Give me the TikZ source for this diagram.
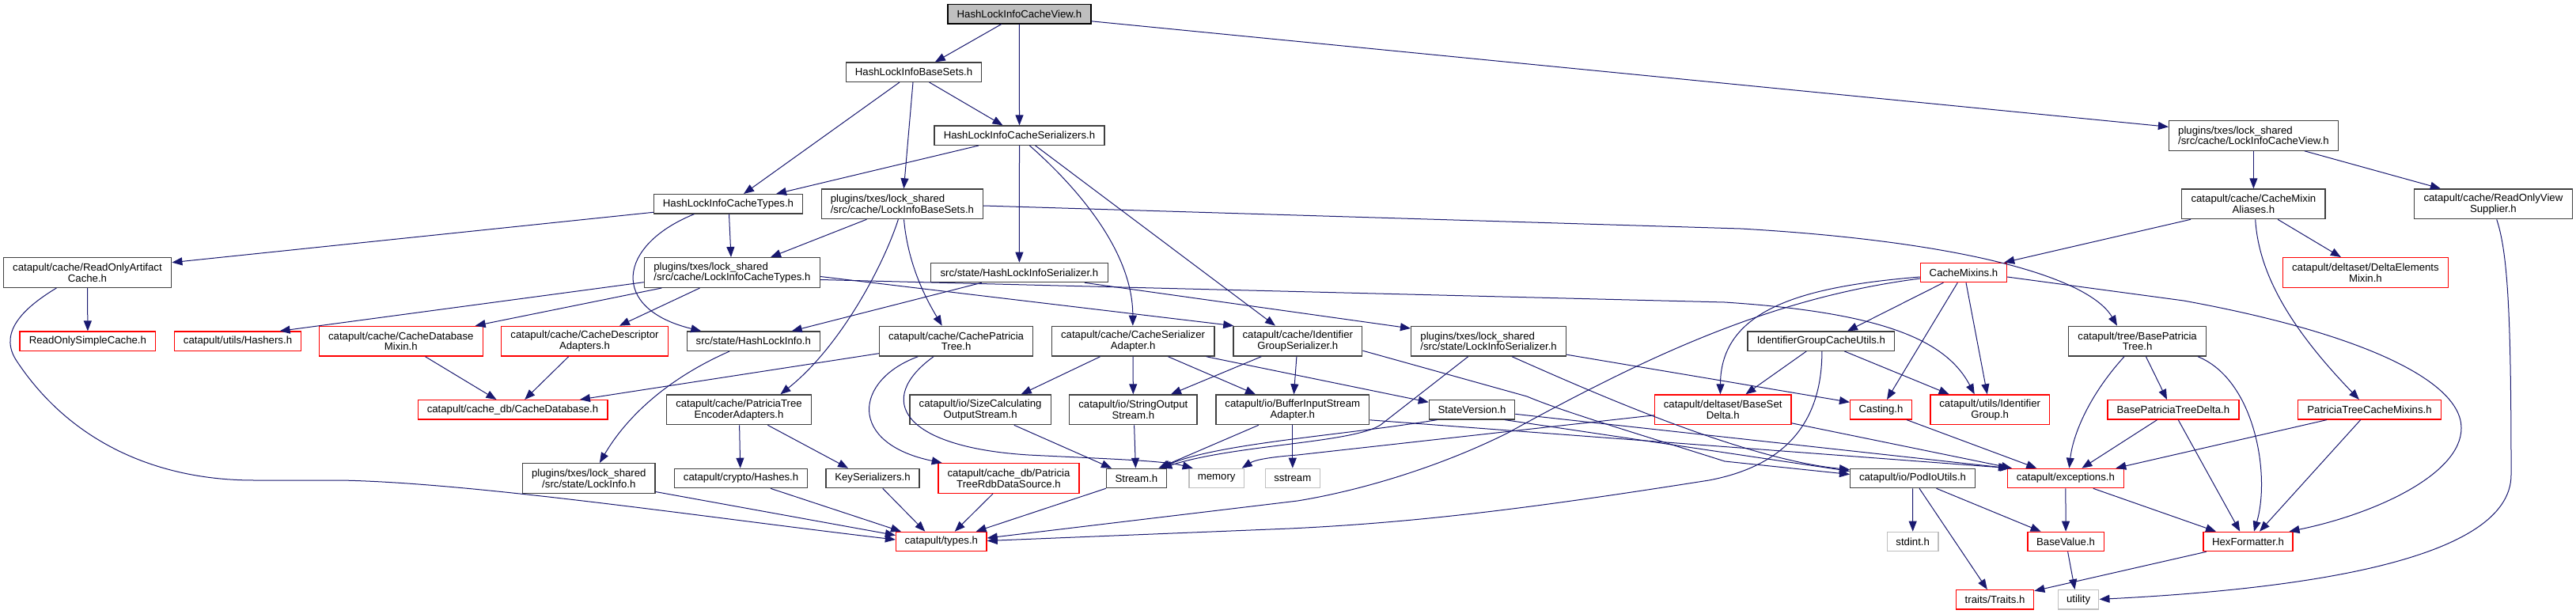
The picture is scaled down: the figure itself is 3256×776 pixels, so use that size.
\documentclass[tikz,border=0pt]{standalone}
\usepackage{fontspec}
\setmainfont{Liberation Sans}
\usetikzlibrary{arrows.meta,calc}
\definecolor{edgec}{HTML}{191970}
\definecolor{nodeb}{HTML}{404040}
\definecolor{sysb}{HTML}{BFBFBF}
\definecolor{topf}{HTML}{BFBFBF}
\begin{document}
\begin{tikzpicture}[x=1pt,y=-1pt,
  base/.style={draw, line width=1.3pt, fill=white, inner sep=0pt, font=\fontsize{13.2}{13.6}\selectfont, text=black},
  one/.style={minimum height=24.3pt},
  two/.style={minimum height=37.7pt},
  blk/.style={base, draw=nodeb},
  rd/.style={base, draw=red},
  gr/.style={base, draw=sysb},
  tp/.style={base, draw=black, fill=topf},
  dep/.style={draw=edgec, line width=1pt, -{Triangle[length=13pt,width=10pt]}}
]
\fill[white] (0,0) rectangle (3256,776);
\useasboundingbox (0,0) rectangle (3256,776);
% row 0-4
\node[tp,one,minimum width=181pt] (view) at (1288.4,17.8) {HashLockInfoCacheView.h};
\node[blk,one,minimum width=171.4pt] (bs) at (1155,91.2) {HashLockInfoBaseSets.h};
\node[blk,one,minimum width=215pt] (ser) at (1288.5,171.2) {HashLockInfoCacheSerializers.h};
\node[blk,two,minimum width=213.8pt,align=left] (lcv) at (2848.4,171.3) {plugins/txes/lock\_shared\\/src/cache/LockInfoCacheView.h};
\node[blk,one,minimum width=188.2pt] (ct) at (920.5,257.8) {HashLockInfoCacheTypes.h};
\node[blk,two,minimum width=204.3pt,align=left] (lbs) at (1140.4,257.8) {plugins/txes/lock\_shared\\/src/cache/LockInfoBaseSets.h};
\node[blk,two,minimum width=181.2pt,align=center] (cma) at (2848.4,257.8) {catapult/cache/CacheMixin\\Aliases.h};
\node[blk,two,minimum width=200pt,align=center] (rovs) at (3151.4,257.8) {catapult/cache/ReadOnlyView\\Supplier.h};
\node[blk,two,minimum width=212.5pt,align=center] (roac) at (110.5,344.5) {catapult/cache/ReadOnlyArtifact\\Cache.h};
\node[blk,two,minimum width=222pt,align=left] (lct) at (925.4,344.5) {plugins/txes/lock\_shared\\/src/cache/LockInfoCacheTypes.h};
\node[blk,one,minimum width=224pt] (hlis) at (1288.4,344.5) {src/state/HashLockInfoSerializer.h};
\node[rd,one,minimum width=109pt] (cm) at (2482,344.5) {CacheMixins.h};
\node[rd,two,minimum width=208.8pt,align=center] (dem) at (2989.9,344.5) {catapult/deltaset/DeltaElements\\Mixin.h};
% row 5
\node[rd,one,minimum width=171.8pt] (rosc) at (110.9,431.2) {ReadOnlySimpleCache.h};
\node[rd,one,minimum width=160.3pt] (hashers) at (300.5,431.2) {catapult/utils/Hashers.h};
\node[rd,two,minimum width=207.2pt,align=center] (cdbm) at (506.8,431.2) {catapult/cache/CacheDatabase\\Mixin.h};
\node[rd,two,minimum width=210.7pt,align=center] (cda) at (739,431.2) {catapult/cache/CacheDescriptor\\Adapters.h};
\node[blk,one,minimum width=168.2pt] (hli) at (952.3,431.2) {src/state/HashLockInfo.h};
\node[blk,two,minimum width=194.3pt,align=center] (cpt) at (1208.6,431.2) {catapult/cache/CachePatricia\\Tree.h};
\node[blk,two,minimum width=205.7pt,align=center] (csa) at (1432.1,431.2) {catapult/cache/CacheSerializer\\Adapter.h};
\node[blk,two,minimum width=162.9pt,align=center] (igs) at (1640.3,431.2) {catapult/cache/Identifier\\GroupSerializer.h};
\node[blk,two,minimum width=196pt,align=left] (lis) at (1881.6,431.2) {plugins/txes/lock\_shared\\/src/state/LockInfoSerializer.h};
\node[blk,one,minimum width=185.7pt] (igcu) at (2301.8,431.2) {IdentifierGroupCacheUtils.h};
\node[blk,two,minimum width=174.1pt,align=center] (bpt) at (2701.6,431.2) {catapult/tree/BasePatricia\\Tree.h};
% row 6
\node[rd,one,minimum width=239.7pt] (cdb) at (648,517.8) {catapult/cache\_db/CacheDatabase.h};
\node[blk,two,minimum width=182.9pt,align=center] (ptea) at (934,517.8) {catapult/cache/PatriciaTree\\EncoderAdapters.h};
\node[blk,two,minimum width=178.2pt,align=center] (scos) at (1239.1,517.8) {catapult/io/SizeCalculating\\OutputStream.h};
\node[blk,two,minimum width=161.1pt,align=center] (sos) at (1432.3,517.8) {catapult/io/StringOutput\\Stream.h};
\node[blk,two,minimum width=193.9pt,align=center] (bisa) at (1633.8,517.8) {catapult/io/BufferInputStream\\Adapter.h};
\node[blk,one,minimum width=108.2pt] (sv) at (1860.5,517.8) {StateVersion.h};
\node[rd,two,minimum width=172.5pt,align=center] (bsd) at (2177.7,517.8) {catapult/deltaset/BaseSet\\Delta.h};
\node[rd,one,minimum width=77.8pt] (cast) at (2377.5,517.8) {Casting.h};
\node[rd,two,minimum width=150.4pt,align=center] (ig) at (2515.2,517.8) {catapult/utils/Identifier\\Group.h};
\node[rd,one,minimum width=165.9pt] (bptd) at (2746.9,517.8) {BasePatriciaTreeDelta.h};
\node[rd,one,minimum width=180.9pt] (ptcm) at (2995,517.8) {PatriciaTreeCacheMixins.h};
% row 7
\node[blk,two,minimum width=167.2pt,align=center] (li) at (744.3,604.5) {plugins/txes/lock\_shared\\/src/state/LockInfo.h};
\node[blk,one,minimum width=168.2pt] (hashes) at (936.6,604.5) {catapult/crypto/Hashes.h};
\node[blk,one,minimum width=118.2pt] (ks) at (1103,604.5) {KeySerializers.h};
\node[rd,two,minimum width=177.8pt,align=center] (ptrds) at (1275,604.5) {catapult/cache\_db/Patricia\\TreeRdbDataSource.h};
\node[blk,one,minimum width=76.1pt] (stream) at (1436.3,604.5) {Stream.h};
\node[gr,one,minimum width=69.6pt] (memory) at (1537.7,604.5) {memory};
\node[gr,one,minimum width=68.9pt] (sstream) at (1633.8,604.5) {sstream};
\node[blk,one,minimum width=157.8pt] (pio) at (2417.5,604.5) {catapult/io/PodIoUtils.h};
\node[rd,one,minimum width=146.8pt] (exc) at (2610.9,604.5) {catapult/exceptions.h};
% row 8-9
\node[rd,one,minimum width=114.6pt] (types) at (1189.8,684.5) {catapult/types.h};
\node[gr,one,minimum width=64.6pt] (stdint) at (2417.7,684.5) {stdint.h};
\node[rd,one,minimum width=96.4pt] (bv) at (2611.1,684.5) {BaseValue.h};
\node[rd,one,minimum width=112.8pt] (hex) at (2841.5,684.5) {HexFormatter.h};
\node[rd,one,minimum width=98.2pt] (traits) at (2521.6,757.8) {traits/Traits.h};
\node[gr,one,minimum width=51.4pt] (utility) at (2627.1,757.8) {utility};

% edges
\path[dep] ($(view.south)+(-22.7,0)$) -- ($(bs.north)+(26.8,0)$);
\path[dep] (view.south) -- (ser.north);
\path[dep] ($(view.east)+(0,9)$) -- ($(lcv.west)+(0,-11)$);
\path[dep] ($(bs.south)+(-18,0)$) -- ($(ct.north)+(19.5,0)$);
\path[dep] ($(bs.south)+(19.6,0)$) -- ($(ser.north)+(-21,0)$);
\path[dep] ($(bs.south)+(-1,0)$) -- ($(lbs.north)+(2,0)$);
\path[dep] ($(ser.south)+(-51.5,0)$) -- ($(ct.north)+(60.5,0)$);
\path[dep] (ser.south) -- (hlis.north);
\path[dep] ($(ser.south)+(12.9,0)$) .. controls (1365,240) and (1432,320) .. ($(csa.north)+(-0.3,0)$);
\path[dep] ($(ser.south)+(20.1,0)$) -- ($(igs.north)+(-28.3,0)$);
\path[dep] ($(ct.west)+(0,10.5)$) -- ($(roac.east)+(0,-12.8)$);
\path[dep] ($(ct.south)+(1,0)$) -- ($(lct.north)+(-1.4,0)$);
\path[dep] ($(ct.south)+(-43,0)$) .. controls (780,310) and (770,390) .. ($(hli.north)+(-66,0)$);
\path[dep] ($(lbs.south)+(-45,0)$) -- ($(lct.north)+(48.6,0)$);
\path[dep] ($(lbs.south)+(2.1,0)$) .. controls (1148,340) and (1175,385) .. ($(cpt.north)+(-17.9,0)$);
\path[dep] ($(lbs.south)+(-5,0)$) .. controls (1115,340) and (1060,440) .. ($(ptea.north)+(52.4,0)$);
\path[dep] ($(lbs.east)+(0,2.2)$) -- (2200,289) .. controls (2480,305) and (2640,350) .. ($(bpt.north)+(-25.6,0)$);
\path[dep] ($(lct.west)+(0,12.2)$) -- ($(hashers.north)+(53.1,0)$);
\path[dep] ($(lct.south)+(-89,0)$) -- ($(cdbm.north)+(93.9,0)$);
\path[dep] ($(lct.south)+(-40.8,0)$) -- ($(cda.north)+(43.9,0)$);
\path[dep] ($(lct.east)+(0,5)$) -- ($(igs.north west)+(1,0)$);
\path[dep] ($(lct.east)+(0,9)$) -- (2180,382) .. controls (2380,395) and (2460,430) .. ($(ig.north)+(-19.5,0)$);
\path[dep] ($(hlis.south)+(-47.7,0)$) -- ($(hli.north)+(48.4,0)$);
\path[dep] ($(hlis.south)+(82.6,0)$) -- ($(lis.west)+(0,-16.2)$);
\path[dep] (lcv.south) -- (cma.north);
\path[dep] ($(lcv.south)+(64.4,0)$) -- ($(rovs.north)+(-66.6,0)$);
\path[dep] ($(cma.south)+(-79.4,0)$) -- ($(cm.north)+(51.2,0)$);
\path[dep] ($(cma.south)+(30.6,0)$) -- ($(dem.north)+(-31,0)$);
\path[dep] ($(cma.south)+(2.3,0)$) .. controls (2855,350) and (2900,420) .. ($(ptcm.north)+(-13.1,0)$);
\path[dep] ($(rovs.south)+(4.3,0)$) .. controls (3170,320) and (3174,400) .. (3174,600) .. controls (3174,710) and (2900,745) .. ($(utility.east)+(0,-0.4)$);
\path[dep] ($(cm.west)+(0,5.5)$) .. controls (2280,362) and (2175,390) .. ($(bsd.north)+(-3.3,0)$);
\path[dep] ($(cm.west)+(0,7.5)$) .. controls (2250,375) and (2100,440) .. (1906,547) .. controls (1820,590) and (1720,620) .. (1640,633) -- ($(types.east)+(0,-4.5)$);
\path[dep] ($(cm.south)+(-25.6,0)$) -- ($(igcu.north)+(33.2,0)$);
\path[dep] ($(cm.south)+(-7.7,0)$) -- ($(cast.north)+(7.5,0)$);
\path[dep] ($(cm.south)+(3,0)$) -- ($(ig.north)+(-3.4,0)$);
\path[dep] ($(cm.east)+(0,5.5)$) -- (2760,380) .. controls (2980,420) and (3111,480) .. (3111,541) .. controls (3111,600) and (3000,650) .. ($(hex.north)+(52,0)$);
\path[dep] ($(igcu.south)+(-18.6,0)$) -- ($(bsd.north)+(28.7,0)$);
\path[dep] ($(igcu.south)+(29.6,0)$) -- ($(ig.north)+(-51.6,0)$);
\path[dep] ($(igcu.south)+(1.1,0)$) .. controls (2303,540) and (2250,590) .. (2160,607) .. controls (1950,640) and (1800,660) .. (1630,668) -- ($(types.east)+(0,-1)$);
\path[dep] ($(bsd.east)+(0,17)$) -- ($(exc.north)+(-68,0)$);
\path[dep] ($(bsd.west)+(0,7)$) -- (1640,575) .. controls (1600,578) and (1585,582) .. ($(memory.north)+(32,0)$);
\path[dep] ($(cast.south)+(32.5,0)$) -- ($(exc.north)+(-36.6,0)$);
\path[dep] ($(bpt.south)+(-16.6,0)$) .. controls (2640,500) and (2620,550) .. ($(exc.north)+(4.5,0)$);
\path[dep] ($(bpt.south)+(10.8,0)$) -- ($(bptd.north)+(-7.9,0)$);
\path[dep] ($(bpt.south)+(76.4,0)$) .. controls (2850,480) and (2870,600) .. ($(hex.north)+(7.5,0)$);
\path[dep] ($(bptd.south)+(-20.3,0)$) -- ($(exc.north)+(20.5,0)$);
\path[dep] ($(bptd.south)+(6.3,0)$) -- ($(hex.north)+(-10.3,0)$);
\path[dep] ($(ptcm.south)+(-53.9,0)$) -- ($(exc.north)+(63.4,0)$);
\path[dep] ($(ptcm.south)+(-11.3,0)$) -- ($(hex.north)+(14.5,0)$);
\path[dep] (exc.south) -- (bv.north);
\path[dep] ($(exc.south)+(34.8,0)$) -- ($(hex.north)+(-40.5,0)$);
\path[dep] ($(hex.south)+(-52.8,0)$) -- ($(traits.east)+(0,-11)$);
\path[dep] ($(bv.south)+(2.5,0)$) -- ($(utility.north)+(-4.6,0)$);
\path[dep] (pio.south) -- (stdint.north);
\path[dep] ($(pio.south)+(8.5,0)$) -- ($(traits.north)+(-9.8,0)$);
\path[dep] ($(pio.south)+(30,0)$) -- ($(bv.north)+(-31.5,0)$);
\path[dep] ($(sv.east)+(0,5.5)$) -- ($(exc.north)+(-72,0)$);
\path[dep] ($(bisa.east)+(0,13)$) -- ($(exc.north)+(-70,0)$);
\path[dep] ($(sv.south)+(41.5,0)$) -- ($(pio.west)+(0,-9)$);
\path[dep] ($(lis.south)+(29.4,0)$) .. controls (2000,490) and (2200,580) .. ($(pio.west)+(0,-11)$);
\path[dep] ($(igs.east)+(0,12)$) -- (1930,501) .. controls (1975,520) and (2060,545) .. (2180,583) -- ($(pio.west)+(0,-5)$);
\path[dep] ($(lis.south)+(-25.9,0)$) -- (1745,537) .. controls (1710,560) and (1560,562) .. ($(stream.north)+(32,0)$);
\path[dep] ($(sv.south)+(-44,0)$) .. controls (1700,550) and (1540,560) .. ($(stream.north)+(30,0)$);
\path[dep] ($(bisa.south)+(-43,0)$) -- ($(stream.north)+(28,0)$);
\path[dep] (bisa.south) -- (sstream.north);
\path[dep] ($(csa.south)+(-41.4,0)$) -- ($(scos.north)+(51.6,0)$);
\path[dep] (csa.south) -- (sos.north);
\path[dep] ($(csa.south)+(44.3,0)$) -- ($(bisa.north)+(-46.8,0)$);
\path[dep] ($(csa.south)+(92.5,0)$) -- ($(sv.west)+(0,-9.5)$);
\path[dep] ($(igs.south)+(-46,0)$) -- ($(sos.north)+(47.7,0)$);
\path[dep] ($(igs.south)+(-1.4,0)$) -- ($(bisa.north)+(1.6,0)$);
\path[dep] ($(scos.south)+(42.7,0)$) -- ($(stream.north)+(-31.3,0)$);
\path[dep] ($(sos.south)+(1.3,0)$) -- ($(stream.north)+(-0.9,0)$);
\path[dep] ($(stream.south)+(-38.4,0)$) -- ($(types.north)+(43.8,0)$);
\path[dep] ($(ptrds.south)+(-20,0)$) -- ($(types.north)+(17,0)$);
\path[dep] ($(ks.south)+(12.7,0)$) -- ($(types.north)+(-20.5,0)$);
\path[dep] ($(hashes.south)+(37.3,0)$) -- ($(types.north)+(-50.8,0)$);
\path[dep] ($(li.east)+(0,17)$) -- ($(types.west)+(0,-8)$);
\path[dep] ($(roac.south)+(-39.1,0)$) .. controls (20,395) and (0,425) .. (21.4,456.7) .. controls (90,560) and (200,607) .. (321,607) -- (430,607) .. controls (600,610) and (900,655) .. ($(types.west)+(0,-2.5)$);
\path[dep] ($(ptea.south)+(0.6,0)$) -- ($(hashes.north)+(-0.9,0)$);
\path[dep] ($(ptea.south)+(36.4,0)$) -- ($(ks.north)+(-30.9,0)$);
\path[dep] ($(hli.south)+(-30.2,0)$) .. controls (840,480) and (790,530) .. ($(li.north)+(13.6,0)$);
\path[dep] ($(cpt.west)+(0,15.5)$) -- ($(cdb.north)+(84.9,0)$);
\path[dep] ($(cdbm.south)+(30.7,0)$) -- ($(cdb.north)+(-20.5,0)$);
\path[dep] ($(cda.south)+(-20.4,0)$) -- ($(cdb.north)+(15.2,0)$);
\path[dep] ($(cpt.south)+(-48.2,0)$) .. controls (1080,480) and (1070,560) .. ($(ptrds.north)+(-84.3,0)$);
\path[dep] ($(cpt.south)+(-28.6,0)$) .. controls (1105,505) and (1140,565) .. (1300,575) .. controls (1400,580) and (1470,582) .. ($(memory.north)+(-30,0)$);
\path[dep] ($(lis.east)+(0,17)$) -- ($(cast.west)+(0,-9.5)$);
\path[dep] (roac.south) -- (rosc.north);
\end{tikzpicture}
\end{document}
